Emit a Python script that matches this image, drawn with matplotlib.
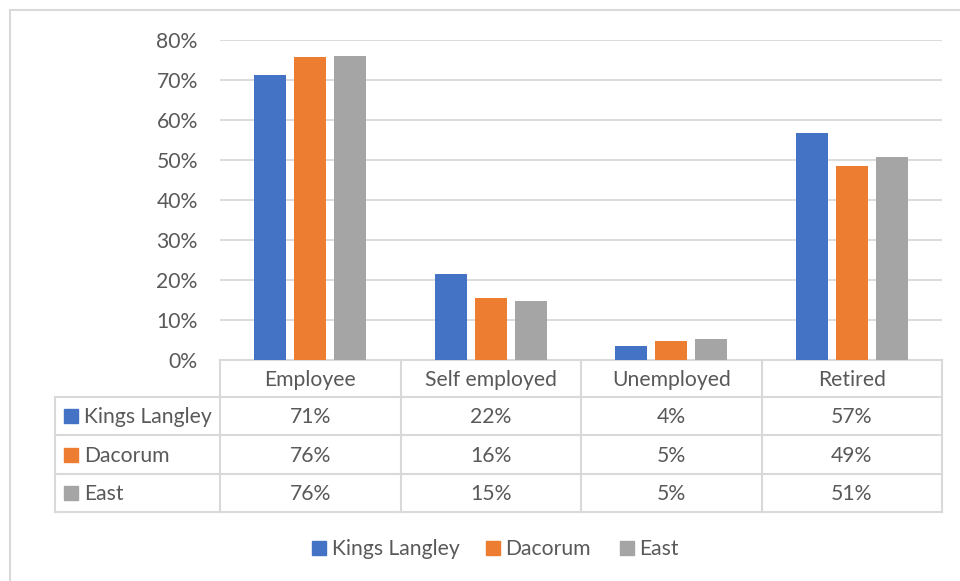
import matplotlib.pyplot as plt
import numpy as np

categories = ["Employee", "Self employed", "Unemployed", "Retired"]
series_names = ["Kings Langley", "Dacorum", "East"]
kings_langley = [0.712, 0.216, 0.036, 0.568]
dacorum = [0.757, 0.156, 0.048, 0.486]
east = [0.759, 0.147, 0.052, 0.507]
colors = ["#4472c4", "#ed7d31", "#a5a5a5"]
yticks = [0, 0.1, 0.2, 0.3, 0.4, 0.5, 0.6, 0.7, 0.8]

series = [kings_langley, dacorum, east]
W, H = 960, 581
TXT = "#595959"
GRID = "#d9d9d9"
FS = 15.2
plt.rcParams['font.family'] = ['Lato', 'DejaVu Sans']

fig = plt.figure(figsize=(9.6, 5.81), dpi=100)

# pixel-space overlay for table, legend and frame
over = fig.add_axes([0, 0, 1, 1])
over.set_xlim(0, W)
over.set_ylim(H, 0)
over.axis("off")

# bar area
left, right, top, bottom = 220, 942, 40, 360
ax = fig.add_axes([left / W, (H - bottom) / H, (right - left) / W, (bottom - top) / H])
x = np.arange(len(categories))
width = 0.178
offsets = [-0.222, 0, 0.222]
for vals, col, off in zip(series, colors, offsets):
    ax.bar(x + off, vals, width, color=col, zorder=3)
ax.set_xlim(-0.5, len(categories) - 0.5)
ax.set_ylim(0, 0.8)
ax.set_yticks(yticks)
ax.set_yticklabels([f"{t:.0%}" for t in yticks], color=TXT, fontsize=FS)
ax.tick_params(axis="y", length=0, pad=16)
ax.set_xticks([])
ax.grid(axis="y", color=GRID, lw=1.3, zorder=0)
for s in ["top", "right", "left"]:
    ax.spines[s].set_visible(False)
ax.spines["bottom"].set_color(GRID)
ax.spines["bottom"].set_linewidth(1.5)

# data table
col_edges = np.linspace(left, right, len(categories) + 1)
row_edges = [360, 397, 435, 474, 512]
lab_left = 55
lc = dict(color=GRID, lw=1.5, zorder=1)
for xe in col_edges:
    over.plot([xe, xe], [row_edges[0], row_edges[-1]], **lc)
over.plot([lab_left, lab_left], [row_edges[1], row_edges[-1]], **lc)
for ye in row_edges[1:]:
    over.plot([lab_left, right], [ye, ye], **lc)

centers = (col_edges[:-1] + col_edges[1:]) / 2
hy = (row_edges[0] + row_edges[1]) / 2
for cx, cat in zip(centers, categories):
    over.text(cx, hy + 1, cat, ha="center", va="center", color=TXT, fontsize=FS)
for i, (name, vals, col) in enumerate(zip(series_names, series, colors)):
    ry = (row_edges[i + 1] + row_edges[i + 2]) / 2
    over.add_patch(plt.Rectangle((64, ry - 7), 14, 14, color=col))
    over.text(84, ry + 1, name, ha="left", va="center", color=TXT, fontsize=FS)
    for cx, v in zip(centers, vals):
        over.text(cx, ry + 1, f"{v:.0%}", ha="center", va="center", color=TXT, fontsize=FS)

# legend
leg_y = 548
leg_pos = [(312, 332), (486, 505), (620, 639)]
for (sx, tx), name, col in zip(leg_pos, series_names, colors):
    over.add_patch(plt.Rectangle((sx, leg_y - 7), 14, 14, color=col))
    over.text(tx, leg_y + 1, name, ha="left", va="center", color=TXT, fontsize=FS)

# chart frame
over.plot([10, 10], [10, H], color=GRID, lw=1.5)
over.plot([10, W], [10, 10], color=GRID, lw=1.5)

fig.savefig("out.png", dpi=100)
